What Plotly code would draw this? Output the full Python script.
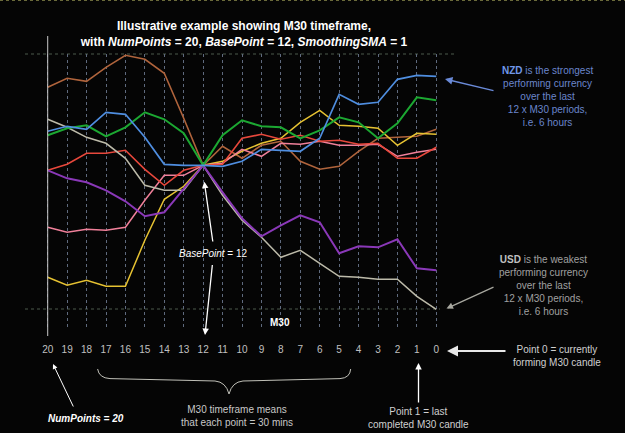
import plotly.graph_objects as go

# ---------------- data ----------------
points = list(range(20, -1, -1))
tick_labels = [str(p) for p in points]

brown  = [0.78, 0.87, 0.84, 0.98, 1.10, 1.06, 0.92, 0.47, 0.00, 0.19, 0.07, 0.20, 0.24, 0.04, -0.04, -0.01, 0.14, 0.27, 0.28, 0.29, 0.36]
nzd    = [0.34, 0.39, 0.36, 0.53, 0.51, 0.28, 0.01, 0.00, 0.00, -0.01, 0.04, 0.16, 0.15, 0.14, 0.27, 0.71, 0.61, 0.63, 0.86, 0.90, 0.89]
green  = [0.30, 0.37, 0.40, 0.29, 0.38, 0.53, 0.46, 0.32, 0.00, 0.30, 0.45, 0.39, 0.38, 0.27, 0.35, 0.48, 0.43, 0.27, 0.42, 0.68, 0.65]
usd    = [0.46, 0.38, 0.28, 0.22, 0.07, -0.20, -0.25, -0.25, 0.00, -0.30, -0.55, -0.72, -0.92, -0.85, -0.98, -1.11, -1.12, -1.14, -1.14, -1.31, -1.44]
purple = [-0.05, -0.13, -0.17, -0.25, -0.36, -0.51, -0.47, -0.23, 0.00, -0.27, -0.53, -0.71, -0.60, -0.50, -0.57, -0.88, -0.81, -0.82, -0.74, -1.03, -1.05]
red    = [-0.05, 0.01, 0.12, 0.12, 0.15, -0.04, -0.20, -0.05, 0.00, 0.01, 0.27, 0.31, 0.26, 0.30, 0.24, 0.25, 0.21, 0.22, 0.07, 0.07, 0.18]
pink   = [-0.62, -0.67, -0.64, -0.65, -0.62, -0.35, -0.10, -0.10, 0.00, 0.02, 0.16, 0.09, 0.22, 0.21, 0.24, 0.20, 0.20, 0.21, 0.09, 0.13, 0.16]
yellow = [-1.12, -1.20, -1.15, -1.21, -1.21, -0.75, -0.34, -0.21, 0.00, 0.04, 0.14, 0.22, 0.27, 0.43, 0.55, 0.40, 0.39, 0.37, 0.20, 0.32, 0.31]

series = [
    ("brown", brown, "#b0643c", 1.6),
    ("yellow", yellow, "#e6c232", 1.5),
    ("pink", pink, "#f0809a", 1.5),
    ("red", red, "#e8483c", 1.6),
    ("USD", usd, "#bdbbaa", 1.5),
    ("purple", purple, "#8a38b8", 2.0),
    ("green", green, "#1ca832", 2.0),
    ("NZD", nzd, "#4f8ee0", 1.7),
]

W, H = 625, 433
L, R, T, B = 38, 179, 54, 103
PW, PH = W - L - R, H - T - B


def px(X):
    return (X - L) / PW


def py(Y):
    return (H - B - Y) / PH


FONT = "Arial, Liberation Sans, sans-serif"

fig = go.Figure()
for name, vals, col, w in series:
    fig.add_trace(go.Scatter(x=points, y=vals, mode="lines", name=name,
                             line=dict(color=col, width=w), hoverinfo="skip"))

shapes = []
# solid left line at point 20
shapes.append(dict(type="line", xref="x", yref="paper", x0=20, x1=20,
                   y0=py(336), y1=py(36), line=dict(color="#c8c8c8", width=1)))
# top and bottom dotted lines
shapes.append(dict(type="line", xref="paper", yref="paper", x0=px(25), x1=px(457),
                   y0=py(54), y1=py(54), line=dict(color="#4c5a4c", width=1, dash="dot"), layer="below"))
shapes.append(dict(type="line", xref="paper", yref="paper", x0=px(25), x1=px(440),
                   y0=py(309), y1=py(309), line=dict(color="#4c5a4c", width=1, dash="dot"), layer="below"))
# top border
shapes.append(dict(type="line", xref="paper", yref="paper", x0=px(0), x1=px(625),
                   y0=py(0.5), y1=py(0.5), line=dict(color="#6a6a3a", width=1, dash="dot")))
# brace
bp = [("M", 97.6, 369), ("Q", 99, 378, 110, 378.6), ("L", 215, 381),
      ("Q", 226, 382, 229, 394), ("Q", 232, 382, 243, 381), ("L", 340, 378.6),
      ("Q", 350, 378, 350.7, 369)]
path = ""
for seg in bp:
    cmd = seg[0]
    coords = seg[1:]
    pts = []
    for i in range(0, len(coords), 2):
        pts.append(f"{px(coords[i]):.5f},{py(coords[i+1]):.5f}")
    path += cmd + " " + " ".join(pts) + " "
shapes.append(dict(type="path", xref="paper", yref="paper", path=path.strip(),
                   line=dict(color="#c0c0b8", width=1)))

ann = []


def text(x, y, t, size=10, color="#d8d8d8"):
    ann.append(dict(xref="paper", yref="paper", x=px(x), y=py(y), text=t, showarrow=False,
                    xanchor="center", yanchor="middle", font=dict(family=FONT, size=size, color=color)))


def arrow(hx, hy, tx, ty, color="#ffffff", width=1.2, head=2, size=1.0):
    ann.append(dict(xref="paper", yref="paper", x=px(hx), y=py(hy), ax=tx - hx, ay=ty - hy,
                    text="", showarrow=True, arrowhead=head, arrowsize=size,
                    arrowwidth=width, arrowcolor=color))


text(547, 96.7, "<b><span style='color:#7097e8'>NZD</span></b> is the strongest<br>performing currency<br>over the last<br>12 x M30 periods,<br>i.e. 6 hours",
     color="#6a86cc")
arrow(445, 79, 495, 91, color="#6a8ad8", width=1.5)

text(543, 285, "<b><span style='color:#c0c0c0'>USD</span></b> is the weakest<br>performing currency<br>over the last<br>12 x M30 periods,<br>i.e. 6 hours",
     color="#a0a0a0")
arrow(446.5, 308.5, 495, 286.5, color="#a8a8a0", width=1.3)

text(213, 253, "<i>BasePoint</i> = 12", size=10, color="#ffffff")
arrow(204.3, 181.7, 213, 243, width=1.3)
arrow(205, 335, 212.5, 263.5, width=1.3)

text(280, 322, "<b>M30</b>", size=10, color="#ffffff")

text(557, 356, "Point 0 = currently<br>forming M30 candle", size=10, color="#d0d0d0")
arrow(447, 351, 507, 351, width=2.2, color="#e8e8e8")

text(237, 416, "M30 timeframe means<br>that each point = 30 mins", size=10, color="#c8c8c8")

text(418.5, 418, "Point 1 = last<br>completed M30 candle", size=10, color="#d0d0d0")
arrow(418.5, 363, 418.5, 404, width=1.3)

text(86, 418, "<b><i>NumPoints = 20</i></b>", size=10, color="#ffffff")
arrow(53, 364, 74, 408, width=1)

fig.update_layout(
    width=W, height=H,
    margin=dict(l=L, r=R, t=T, b=B, pad=0),
    paper_bgcolor="#050505", plot_bgcolor="#050505",
    showlegend=False,
    title=dict(text="<b>Illustrative example showing M30 timeframe,<br>with <i>NumPoints</i> = 20, <i>BasePoint</i> = 12, <i>SmoothingSMA</i> = 1</b>",
               x=244 / W, xanchor="center", y=1 - 30 / H, yanchor="middle",
               font=dict(family=FONT, size=12, color="#ffffff")),
    xaxis=dict(range=[20.5, -0.5], tickmode="array", tickvals=points, ticktext=tick_labels,
               showgrid=True, gridcolor="#5f6a7e", gridwidth=1, griddash="3px,3px",
               zeroline=False, showline=False, ticks="outside", ticklen=10,
               tickcolor="rgba(0,0,0,0)", tickfont=dict(family=FONT, size=10, color="#c0c0c0"),
               fixedrange=True),
    yaxis=dict(range=[-1.647, 1.113], showgrid=False, zeroline=False, showticklabels=False,
               showline=False, fixedrange=True),
    shapes=shapes,
    annotations=ann,
)

fig.write_html("out.html")
